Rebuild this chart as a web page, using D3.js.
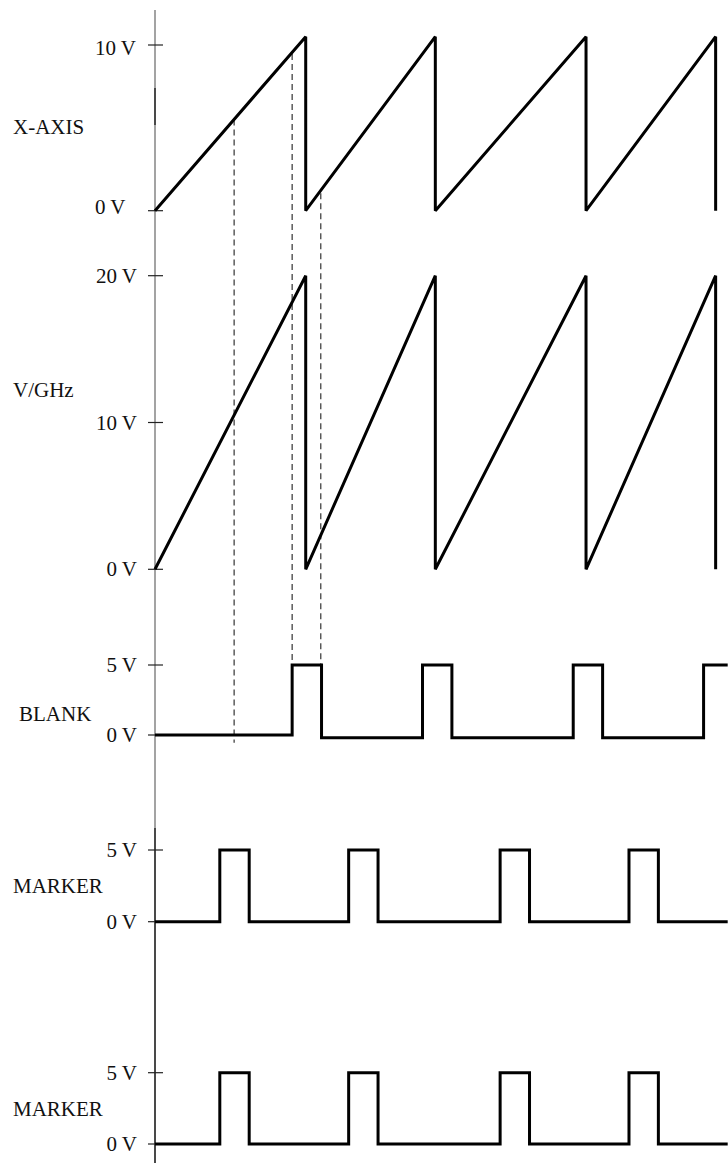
<!DOCTYPE html>
<html>
<head>
<meta charset="utf-8">
<script src="https://cdn.jsdelivr.net/npm/d3@7"></script>
<style>
  body { margin: 0; background: #fff; }
  text { font-family: "Liberation Serif", "Times New Roman", serif; font-size: 21px; fill: #111; }
</style>
</head>
<body>
<div id="chart"></div>
<script>
// timing values (arbitrary time units, 1 sweep = 10)
let sweepResets  = [10, 18.6, 28.6, 37.2];
let xAxisPeak    = 10.5;   // V
let vghzPeak     = 20;     // V
let blankPulses  = [[9.1, 11.05], [17.75, 19.7], [27.75, 29.7], [36.4, 38]];
let blankLows    = [0, -0.2, -0.2, -0.2];   // low level before each pulse
let markerPulses = [[4.3, 6.25], [12.85, 14.8], [22.9, 24.85], [31.45, 33.4]];
let pulseHigh    = 5;
let endTime      = 38;

// dashed guides: time, top value (X-AXIS), bottom value (BLANK)
let guideTimes   = [5.25, 9.1, 11.0];
let guideTop     = [5.5, 9.45, 1.05];
let guideBottom  = [-0.55, 5, 5];

let panelNames   = ['X-AXIS', 'V/GHz', 'BLANK', 'MARKER', 'MARKER'];
let xAxisTicks   = [10, 0];
let vghzTicks    = [20, 10, 0];
let pulseTicks   = [5, 0];

let w = 728, h = 1163;
let svg = d3.select('#chart').append('svg').attr('width', w).attr('height', h);

let axisX = 155;
let x = d3.scaleLinear().domain([0, endTime]).range([axisX, 727.7]);

// panel layout
let panels = [
  {name: panelNames[0], ticks: xAxisTicks, y: d3.scaleLinear().domain([0, 10]).range([210.7, 45]),    nameX: 13, nameY: 134,   labelAnchor: 'start', labelX: 95},
  {name: panelNames[1], ticks: vghzTicks,  y: d3.scaleLinear().domain([0, 20]).range([569.3, 275.7]), nameX: 13, nameY: 396.7, labelAnchor: 'end',   labelX: 137},
  {name: panelNames[2], ticks: pulseTicks, y: d3.scaleLinear().domain([0, 5]).range([735, 665]),      nameX: 19, nameY: 720.5, labelAnchor: 'end',   labelX: 137},
  {name: panelNames[3], ticks: pulseTicks, y: d3.scaleLinear().domain([0, 5]).range([921.7, 850]),    nameX: 13, nameY: 893,   labelAnchor: 'end',   labelX: 137},
  {name: panelNames[4], ticks: pulseTicks, y: d3.scaleLinear().domain([0, 5]).range([1144, 1072.7]),  nameX: 13, nameY: 1116,  labelAnchor: 'end',   labelX: 137},
];

// vertical axis line (gray, with darker bits like the scan)
svg.append('line').attr('x1', axisX).attr('x2', axisX).attr('y1', 10).attr('y2', h)
  .attr('stroke', '#8c8c8c').attr('stroke-width', 1.6);
[[88, 125], [828, h]].forEach(s => {
  svg.append('line').attr('x1', axisX).attr('x2', axisX).attr('y1', s[0]).attr('y2', s[1])
    .attr('stroke', '#333').attr('stroke-width', 1.6);
});

// dashed guide lines
guideTimes.forEach((t, i) => {
  svg.append('line')
    .attr('x1', x(t)).attr('x2', x(t))
    .attr('y1', panels[0].y(guideTop[i]))
    .attr('y2', panels[2].y(guideBottom[i]))
    .attr('stroke', '#333').attr('stroke-width', 1.2)
    .attr('stroke-dasharray', '6,4');
});

// ticks + labels
panels.forEach((p, pi) => {
  let g = svg.append('g');
  g.selectAll('line.tick').data(p.ticks).enter().append('line')
    .attr('class', 'tick')
    .attr('x1', 148).attr('x2', 163)
    .attr('y1', d => p.y(d)).attr('y2', d => p.y(d))
    .attr('stroke', '#222').attr('stroke-width', 1.2);
  g.selectAll('text.tl').data(p.ticks).enter().append('text')
    .attr('class', 'tl')
    .attr('x', p.labelX)
    .attr('y', d => p.y(d) + (pi == 0 ? (d == 0 ? 3 : 10) : 7))
    .attr('text-anchor', p.labelAnchor)
    .text(d => d + ' V');
  g.append('text').attr('x', p.nameX).attr('y', p.nameY).text(p.name);
});

let line = d3.line().x(d => x(d[0])).y(d => d[1]);

function sawPoints (peak, yScale) {
  let pts = [[0, yScale(0)]];
  sweepResets.forEach(t => {
    pts.push([t, yScale(peak)]);
    pts.push([t, yScale(0)]);
  });
  return pts;
}

function pulsePoints (pulses, lows, yScale) {
  let pts = [[0, yScale(lows[0])]];
  pulses.forEach((p, i) => {
    pts.push([p[0], yScale(lows[i])]);
    pts.push([p[0], yScale(pulseHigh)]);
    pts.push([p[1], yScale(pulseHigh)]);
    let nextLow = i + 1 < lows.length ? lows[i + 1] : lows[i];
    if (p[1] < endTime) pts.push([p[1], yScale(nextLow)]);
  });
  let last = pts[pts.length - 1];
  if (last[0] < endTime) pts.push([endTime, last[1]]);
  return pts;
}

let markerLows = markerPulses.map(() => 0);

let signals = [
  sawPoints(xAxisPeak, panels[0].y),
  sawPoints(vghzPeak, panels[1].y),
  pulsePoints(blankPulses, blankLows, panels[2].y),
  pulsePoints(markerPulses, markerLows, panels[3].y),
  pulsePoints(markerPulses, markerLows, panels[4].y),
];

svg.selectAll('path.sig').data(signals).enter().append('path')
  .attr('class', 'sig')
  .attr('d', line)
  .attr('fill', 'none')
  .attr('stroke', '#000')
  .attr('stroke-width', 3)
  .attr('stroke-linejoin', 'miter')
  .attr('stroke-miterlimit', 2);
</script>
</body>
</html>
